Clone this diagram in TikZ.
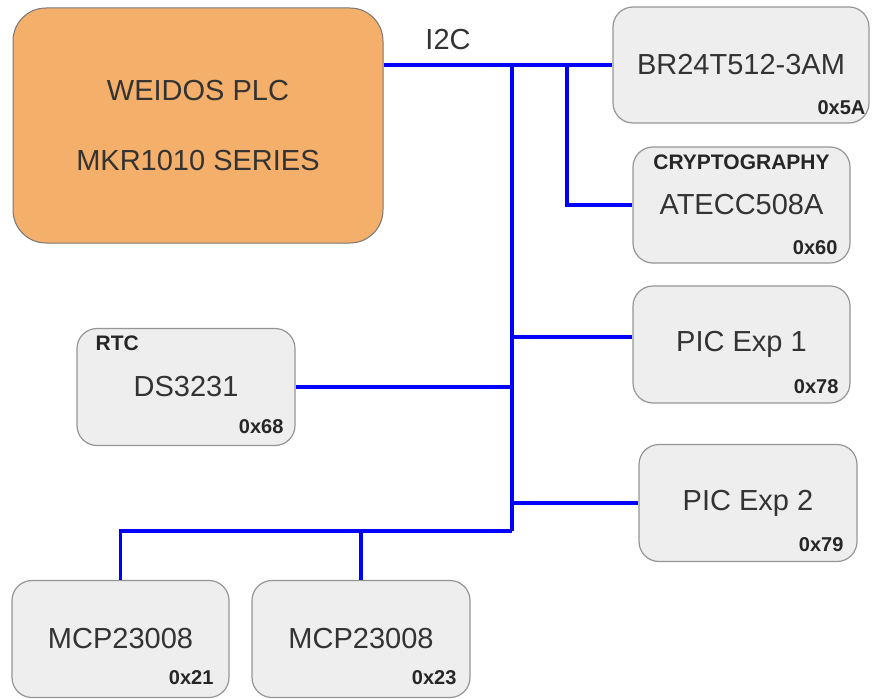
\documentclass[tikz,border=0pt]{standalone}
\usepackage{fontspec}
\setmainfont{Liberation Sans}
\usepackage{xcolor}
\usepackage{tikz}
\usetikzlibrary{positioning,calc}

\definecolor{plcorange}{HTML}{F4AF6A}
\definecolor{chipgray}{HTML}{EEEEEE}
\definecolor{edgegray}{HTML}{959595}
\definecolor{busblue}{HTML}{0000FF}
\definecolor{inkgray}{HTML}{333333}

\begin{document}
\begin{tikzpicture}[
  x=1pt, y=-1pt,
  plc/.style={draw=edgegray!80!black, fill=plcorange, rounded corners=33pt, line width=1pt, minimum width=370pt, minimum height=235pt, align=center, text=inkgray, font=\fontsize{29}{70}\selectfont},
  chip/.style={draw=edgegray, fill=chipgray, rounded corners=20pt, line width=1.2pt, minimum width=217pt, minimum height=117pt, text=inkgray, font=\fontsize{29}{34}\selectfont},
  addr/.style={anchor=east, inner sep=0pt, text=black!85, font=\fontsize{20}{24}\selectfont\bfseries},
  tag/.style={inner sep=0pt, text=black!85, font=\fontsize{21}{24}\selectfont\bfseries},
  bus/.style={draw=busblue, line width=3.6pt}
]
\useasboundingbox (0,0) rectangle (874,698);

% main controller
\node[plc] (plc) at (198,125.5) {WEIDOS PLC\\MKR1010 SERIES};
\node[text=inkgray, font=\fontsize{29}{34}\selectfont] (i2c) at (448,40) {I2C};

% devices on the bus
\node[chip, minimum width=256pt, minimum height=116pt] (br) at (741,65) {BR24T512-3AM};
\node[chip, minimum height=116pt] (crypto) at (741.5,205) {ATECC508A};
\node[chip] (pic1) at (741.5,344.5) {PIC Exp 1};
\node[chip, minimum width=218pt] (pic2) at (748,503) {PIC Exp 2};
\node[chip, minimum width=218pt] (rtc) at (186,387) {DS3231};
\node[chip] (mcpA) at (120.5,639) {MCP23008};
\node[chip, minimum width=218pt] (mcpB) at (361,639) {MCP23008};

% titles and addresses
\node[tag, anchor=north] (cryptotag) at ([yshift=-8pt]crypto.north) {CRYPTOGRAPHY};
\node[tag, anchor=north west] (rtctag) at ([shift={(19,8)}]rtc.north west) {RTC};
\node[addr] (bradr) at ([shift={(-4,-16)}]br.south east) {0x5A};
\node[addr] (cryptoadr) at ([shift={(-13,-16)}]crypto.south east) {0x60};
\node[addr] (pic1adr) at ([shift={(-12,-17)}]pic1.south east) {0x78};
\node[addr] (pic2adr) at ([shift={(-14,-17)}]pic2.south east) {0x79};
\node[addr] (rtcadr) at ([shift={(-12,-19)}]rtc.south east) {0x68};
\node[addr] (mcpAadr) at ([shift={(-16,-20)}]mcpA.south east) {0x21};
\node[addr] (mcpBadr) at ([shift={(-14,-20)}]mcpB.south east) {0x23};

% I2C bus
\coordinate (bustop) at (512,65);
\coordinate (busbot) at (512,531);
\coordinate (cryptotap) at (567,65);
\path ([yshift=7.5pt]pic1.west) coordinate (pic1in);

\draw[bus] (plc.east |- br.west) -- (br.west);
\draw[bus] (bustop) -- (busbot);
\draw[bus] (cryptotap) |- (crypto.west);
\draw[bus] (pic1in -| bustop) -- (pic1in);
\draw[bus] (rtc.east) -- (rtc.east -| bustop);
\draw[bus] (pic2.west -| bustop) -- (pic2.west);
\draw[bus] (busbot) -| (mcpA.north);
\draw[bus] (mcpB.north |- busbot) -- (mcpB.north);
\end{tikzpicture}
\end{document}
